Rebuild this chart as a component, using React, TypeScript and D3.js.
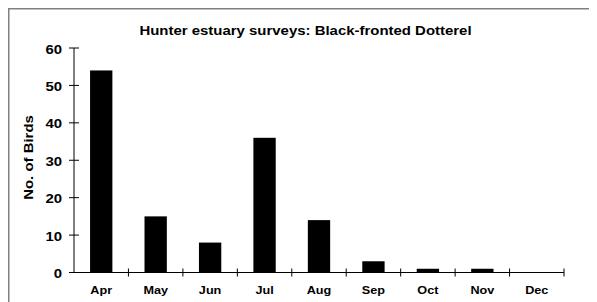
import React from "react";
import * as d3 from "d3";

const months = ["Apr", "May", "Jun", "Jul", "Aug", "Sep", "Oct", "Nov", "Dec"];
const counts = [54, 15, 8, 36, 14, 3, 1, 1, 0];
const yTicks = [0, 10, 20, 30, 40, 50, 60];
const title = "Hunter estuary surveys: Black-fronted Dotterel";
const yTitle = "No. of Birds";

export default function App() {
  // svg placed at page offset (8,8) by body margin
  const ox = 8, oy = 8;
  const x0 = 74 - ox, x1 = 564 - ox;
  const yTop = 48 - oy, yBot = 272.5 - oy;
  const x = d3.scaleBand<string>().domain(months).range([x0, x1]).paddingInner(0).paddingOuter(0);
  const y = d3.scaleLinear().domain([0, 60]).range([yBot, yTop]);
  const bw = x.bandwidth() * 0.41;
  const font = "'Liberation Sans', Arial, sans-serif";
  const sx = 1.15;
  return (
    <svg width={600} height={300} style={{ display: "block", overflow: "hidden" }}>
      <rect x={0.5} y={0.5} width={620} height={320} fill="white" stroke="#808080" strokeWidth={2} />
      <text
        transform={`translate(${305.5 - ox},${35 - oy}) scale(${sx},1)`}
        textAnchor="middle"
        fontFamily={font}
        fontWeight="bold"
        fontSize={13}
      >
        {title}
      </text>
      {months.map((m, i) => (
        <rect
          key={m}
          x={(x(m) as number) + (x.bandwidth() - bw) / 2}
          y={y(counts[i])}
          width={bw}
          height={yBot - y(counts[i])}
          fill="black"
        />
      ))}
      <line x1={x0} x2={x0} y1={yTop} y2={yBot} stroke="black" strokeWidth={1} />
      <line x1={x0} x2={x1} y1={yBot} y2={yBot} stroke="black" strokeWidth={1} />
      {yTicks.map((t) => (
        <g key={t}>
          <line x1={x0 - 5} x2={x0 + 5} y1={y(t)} y2={y(t)} stroke="black" strokeWidth={1} />
          <text
            transform={`translate(${62 - ox},${y(t) + 5.5}) scale(${sx},1)`}
            textAnchor="end"
            fontFamily={font}
            fontWeight="bold"
            fontSize={13}
          >
            {t}
          </text>
        </g>
      ))}
      {months.map((m) => (
        <g key={m}>
          <line
            x1={(x(m) as number) + x.bandwidth()}
            x2={(x(m) as number) + x.bandwidth()}
            y1={yBot - 4}
            y2={yBot + 4}
            stroke="black"
            strokeWidth={1}
          />
          <text
            transform={`translate(${(x(m) as number) + x.bandwidth() / 2},${294 - oy}) scale(${sx},1)`}
            textAnchor="middle"
            fontFamily={font}
            fontWeight="bold"
            fontSize={11}
          >
            {m}
          </text>
        </g>
      ))}
      <text
        transform={`translate(${33 - ox},${157.5 - oy}) rotate(-90) scale(${sx},1)`}
        textAnchor="middle"
        fontFamily={font}
        fontWeight="bold"
        fontSize={13}
      >
        {yTitle}
      </text>
    </svg>
  );
}
